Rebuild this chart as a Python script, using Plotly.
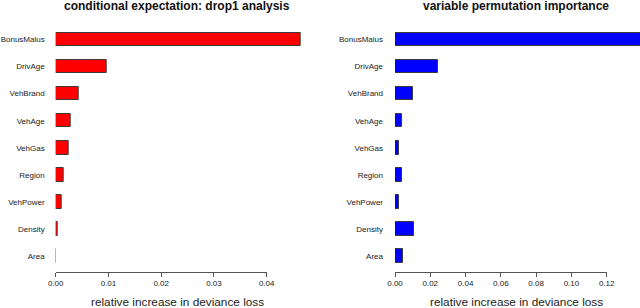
import plotly.graph_objects as go

# ---- data ----
variables = ["BonusMalus", "DrivAge", "VehBrand", "VehAge", "VehGas",
             "Region", "VehPower", "Density", "Area"]
drop1_values = [0.0465, 0.0097, 0.0044, 0.0028, 0.0025,
                0.0016, 0.0011, 0.0004, 0.00005]
vpi_values = [0.142, 0.0245, 0.0100, 0.0041, 0.0023,
              0.0038, 0.0024, 0.0109, 0.0044]
left_ticks = [0.00, 0.01, 0.02, 0.03, 0.04]
right_ticks = [0.00, 0.02, 0.04, 0.06, 0.08, 0.10, 0.12]
title_left = "conditional expectation: drop1 analysis"
title_right = "variable permutation importance"
xlabel = "relative increase in deviance loss"

W, H = 640, 308
FONT = "Liberation Sans, Arial, Helvetica, sans-serif"

# pixel geometry (layout)
L0, L_tick_end, L_end = 55.7, 266.7, 302.0
R0, R_tick_end, R_end = 395.0, 606.7, 640.0
y_bottom_px, y_top_px = 271.7, 26.0
ydom = [1 - y_bottom_px / H, 1 - y_top_px / H]
yrange = [-0.58, len(variables) - 0.5]

cats = variables[::-1]

fig = go.Figure()
fig.add_trace(go.Bar(
    x=drop1_values[::-1], y=cats, orientation="h", width=0.5,
    marker=dict(color="#ff0000", line=dict(color="#3a3a3a", width=1)),
    xaxis="x", yaxis="y", showlegend=False, hoverinfo="x+y"))
fig.add_trace(go.Bar(
    x=vpi_values[::-1], y=cats, orientation="h", width=0.5,
    marker=dict(color="#0000ff", line=dict(color="#3a3a3a", width=1)),
    xaxis="x2", yaxis="y2", showlegend=False, hoverinfo="x+y"))
# invisible helper traces so that the tick axes get drawn
fig.add_trace(go.Scatter(x=left_ticks, y=[0] * len(left_ticks), mode="lines",
                         line=dict(width=0), opacity=0, hoverinfo="skip",
                         xaxis="x3", yaxis="y3", showlegend=False))
fig.add_trace(go.Scatter(x=right_ticks, y=[0] * len(right_ticks), mode="lines",
                         line=dict(width=0), opacity=0, hoverinfo="skip",
                         xaxis="x4", yaxis="y4", showlegend=False))

ycommon = dict(domain=ydom, range=yrange, type="category",
               categoryorder="array", categoryarray=cats, automargin=False,
               showline=False, ticks="", showgrid=False, zeroline=False,
               tickfont=dict(size=8, color="#1a1a1a", family=FONT))

left_max = max(left_ticks) * (L_end - L0) / (L_tick_end - L0)
right_max = max(right_ticks) * (R_end - R0) / (R_tick_end - R0)

tickaxis = dict(showline=True, linecolor="#555555", linewidth=1,
                ticks="outside", ticklen=4, tickcolor="#555555",
                tickwidth=1, showgrid=False, zeroline=False, automargin=False,
                tickformat=".2f",
                tickfont=dict(size=8, color="#1a1a1a", family=FONT))

fig.update_layout(
    width=W, height=H, margin=dict(l=0, r=0, t=0, b=0, autoexpand=False),
    paper_bgcolor="white", plot_bgcolor="rgba(0,0,0,0)",
    bargap=0,
    xaxis=dict(domain=[L0 / W, L_end / W], range=[0, left_max],
               visible=False, anchor="y", automargin=False),
    yaxis=dict(**ycommon, anchor="x", ticklabelstandoff=10),
    xaxis2=dict(domain=[R0 / W, R_end / W], range=[0, right_max],
                visible=False, anchor="y2", automargin=False),
    yaxis2=dict(**ycommon, anchor="x2", ticklabelstandoff=11),
    xaxis3=dict(domain=[L0 / W, L_tick_end / W], range=[0, max(left_ticks)],
                tickvals=left_ticks, anchor="y3", **tickaxis),
    yaxis3=dict(domain=ydom, range=[0, 1], visible=False, anchor="x3",
                automargin=False),
    xaxis4=dict(domain=[R0 / W, R_tick_end / W], range=[0, max(right_ticks)],
                tickvals=right_ticks, anchor="y4", **tickaxis),
    yaxis4=dict(domain=ydom, range=[0, 1], visible=False, anchor="x4",
                automargin=False),
)

annots = [
    dict(text="<b>" + title_left + "</b>", x=177 / W, y=1 - 6.5 / H,
         font=dict(size=12, color="#111111", family=FONT)),
    dict(text="<b>" + title_right + "</b>", x=516 / W, y=1 - 6.5 / H,
         font=dict(size=12, color="#111111", family=FONT)),
    dict(text=xlabel, x=177 / W, y=1 - 302 / H,
         font=dict(size=11.8, color="#222222", family=FONT)),
    dict(text=xlabel, x=516 / W, y=1 - 302 / H,
         font=dict(size=11.8, color="#222222", family=FONT)),
]
for a in annots:
    fig.add_annotation(xref="paper", yref="paper", showarrow=False,
                       xanchor="center", yanchor="middle", **a)

fig.write_html("out.html",
               config={"displayModeBar": False},
               post_script="document.body.style.margin='0';"
                           "document.body.style.overflow='hidden';")
